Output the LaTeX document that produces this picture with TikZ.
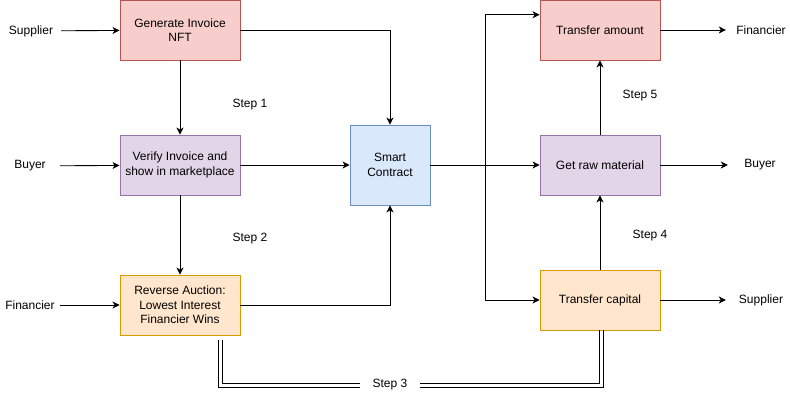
\documentclass[tikz,border=0pt]{standalone}
\usepackage{fontspec}
\setmainfont{Liberation Sans}
\usetikzlibrary{arrows.meta,calc}
\definecolor{redF}{HTML}{F8CECC}\definecolor{redD}{HTML}{B85450}
\definecolor{purF}{HTML}{E1D5E7}\definecolor{purD}{HTML}{9673A6}
\definecolor{oraF}{HTML}{FFE6CC}\definecolor{oraD}{HTML}{D79B00}
\definecolor{bluF}{HTML}{DAE8FC}\definecolor{bluD}{HTML}{6C8EBF}
\begin{document}
\begin{tikzpicture}[x=1pt,y=-1pt,
  every node/.style={font=\fontsize{12}{14.5}\selectfont, inner sep=0pt, align=center},
  box/.style={draw, line width=0.9pt, minimum width=120pt, minimum height=60pt},
  lbl/.style={minimum height=14pt},
  conn/.style={line width=0.9pt, -{Stealth[length=7pt,width=7pt,inset=2pt]}},
  rail/.style={line width=0.9pt}]
\useasboundingbox (0,0) rectangle (790,401);
% boxes
\node[box, fill=redF, draw=redD] (gen) at (180,30) {Generate Invoice\\NFT};
\node[box, fill=purF, draw=purD] (ver) at (180,165) {Verify Invoice and\\show in marketplace};
\node[box, fill=oraF, draw=oraD] (ra) at (180,305) {Reverse Auction:\\Lowest Interest\\Financier Wins};
\node[box, fill=bluF, draw=bluD, minimum width=80pt, minimum height=80pt] (sc) at (390,165) {Smart\\Contract};
\node[box, fill=redF, draw=redD] (ta) at (600,30) {Transfer amount};
\node[box, fill=purF, draw=purD] (gr) at (600,165) {Get raw material};
\node[box, fill=oraF, draw=oraD] (tc) at (600,300) {Transfer capital};
% side labels
\node[lbl, minimum width=60pt] (lsup) at (31,31) {Supplier};
\node[lbl, minimum width=60pt] (lbuy) at (30,166) {Buyer};
\node[lbl, minimum width=60pt] (lfin) at (30,305) {Financier};
\node[lbl, minimum width=70pt] (rfin) at (761,30) {Financier};
\node[lbl, minimum width=64pt] (rbuy) at (760,165) {Buyer};
\node[lbl, minimum width=70pt] (rsup) at (761,300) {Supplier};
% step labels
\node (s1) at (250,105) {Step 1};
\node (s2) at (250,239) {Step 2};
\node (s4) at (650,236) {Step 4};
\node (s5) at (640,96) {Step 5};
% connectors
\draw[conn] (lsup) -- (gen);
\draw[conn] (lbuy) -- (ver);
\draw[conn] (lfin) -- (ra);
\draw[conn] (ta) -- (rfin);
\draw[conn] (gr) -- (rbuy);
\draw[conn] (tc) -- (rsup);
\draw[conn] (gen) -- (ver);
\draw[conn] (ver) -- (ra);
\draw[conn] (ver) -- (sc);
\draw[conn] (gen.east) -| (sc.north);
\draw[conn] (ra.east) -| (sc.south);
\coordinate (j) at (485,165);
\coordinate (taIn) at ($(ta.north west)!0.25!(ta.south west)$);
\draw[conn] (sc.east) -- (gr.west);
\draw[conn] (j) |- (taIn);
\draw[conn] (j) |- (tc.west);
\draw[conn] (gr) -- (ta);
\draw[conn] (tc) -- (gr);
% step 3 double connector (two rails)
\coordinate (oa) at (218.5,340);
\coordinate (ob) at (603.5,330);
\coordinate (ia) at (222.5,340);
\coordinate (ib) at (599.5,330);
\coordinate (obot) at (0,387);
\coordinate (ibot) at (0,383);
\draw[rail] (oa) -- (oa |- obot) -- (ob |- obot) -- (ob);
\draw[rail] (ia) -- (ia |- ibot) -- (ib |- ibot) -- (ib);
\node[fill=white, minimum width=60pt, minimum height=12pt] (s3) at (390,385) {Step 3};
\end{tikzpicture}
\end{document}
